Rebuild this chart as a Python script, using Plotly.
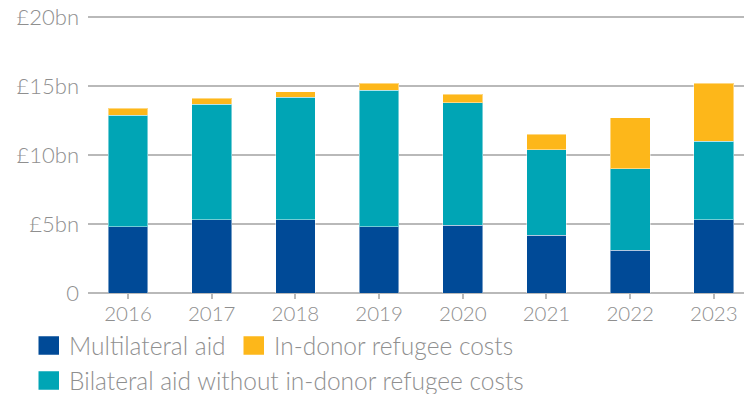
import plotly.graph_objects as go

# UK aid by channel, £bn
years = ["2016", "2017", "2018", "2019", "2020", "2021", "2022", "2023"]
multilateral = [4.8, 5.3, 5.3, 4.8, 4.9, 4.2, 3.1, 5.3]
bilateral = [8.1, 8.4, 8.9, 9.9, 8.9, 6.2, 5.9, 5.7]
refugee = [0.5, 0.4, 0.4, 0.5, 0.6, 1.1, 3.7, 4.2]

series_names = ["Multilateral aid", "Bilateral aid without in-donor refugee costs", "In-donor refugee costs"]
series_colors = ["#004a97", "#00a5b5", "#fdb71a"]

y_tickvals = [0, 5, 10, 15, 20]
y_ticktext = ["0", "£5bn", "£10bn", "£15bn", "£20bn"]

FONT = "Lato"
GREY_TEXT = "#8f8f8f"
GRID = "#b9b9b9"

W, H = 744, 394
L, R, T, B = 88, 0, 16, 101
PW, PH = W - L - R, H - T - B
Y_MAX = 20.08

fig = go.Figure()
for name, vals, col in zip(series_names, [multilateral, bilateral, refugee], series_colors):
    fig.add_trace(go.Bar(
        x=years, y=vals, name=name,
        marker=dict(color=col, line=dict(color="rgba(255,255,255,0.45)", width=1)),
        width=0.475, showlegend=False,
    ))


def px_to_paper(px, py):
    return (px - L) / PW, (H - B - py) / PH


# Legend drawn as swatches + labels (two rows)
legend_items = [
    (series_names[0], series_colors[0], 38.5, 345.5),
    (series_names[2], series_colors[2], 243.5, 345.5),
    (series_names[1], series_colors[1], 38.5, 380.5),
]
sw_w, sw_h = 20.5, 18.5
shapes = []
annotations = []
for label, col, px, py in legend_items:
    x0, y0 = px_to_paper(px, py + sw_h / 2)
    x1, y1 = px_to_paper(px + sw_w, py - sw_h / 2)
    shapes.append(dict(
        type="rect", xref="paper", yref="paper", line=dict(width=0),
        fillcolor=col, x0=x0, x1=x1, y0=y0, y1=y1,
    ))
    tx, ty = px_to_paper(px + sw_w + 8, py)
    annotations.append(dict(
        xref="paper", yref="paper", showarrow=False,
        x=tx, y=ty, xanchor="left", yanchor="middle", text=label,
        font=dict(family=FONT, size=24.5, color=GREY_TEXT, weight=300),
    ))

fig.update_layout(
    barmode="stack",
    width=W, height=H,
    margin=dict(l=L, r=R, t=T, b=B),
    paper_bgcolor="white", plot_bgcolor="white",
    font=dict(family=FONT, size=21, color=GREY_TEXT, weight=300),
    shapes=shapes, annotations=annotations,
    xaxis=dict(
        type="category", range=[-0.478, 7.36],
        showgrid=False, showline=False, zeroline=False,
        ticks="outside", ticklen=5, tickwidth=1.5, tickcolor=GRID,
        ticklabelstandoff=-3,
        tickfont=dict(family=FONT, size=20.5, color=GREY_TEXT, weight=300),
        fixedrange=True,
    ),
    yaxis=dict(
        range=[0, Y_MAX], tickvals=y_tickvals, ticktext=y_ticktext,
        showgrid=True, gridcolor=GRID, gridwidth=1.5,
        zeroline=True, zerolinecolor=GRID, zerolinewidth=2,
        showline=False, ticks="", ticklabelstandoff=8,
        tickfont=dict(family=FONT, size=22, color=GREY_TEXT, weight=300),
        fixedrange=True,
    ),
    bargap=0.5,
)

fig.write_html("out.html", config={"displayModeBar": False})
